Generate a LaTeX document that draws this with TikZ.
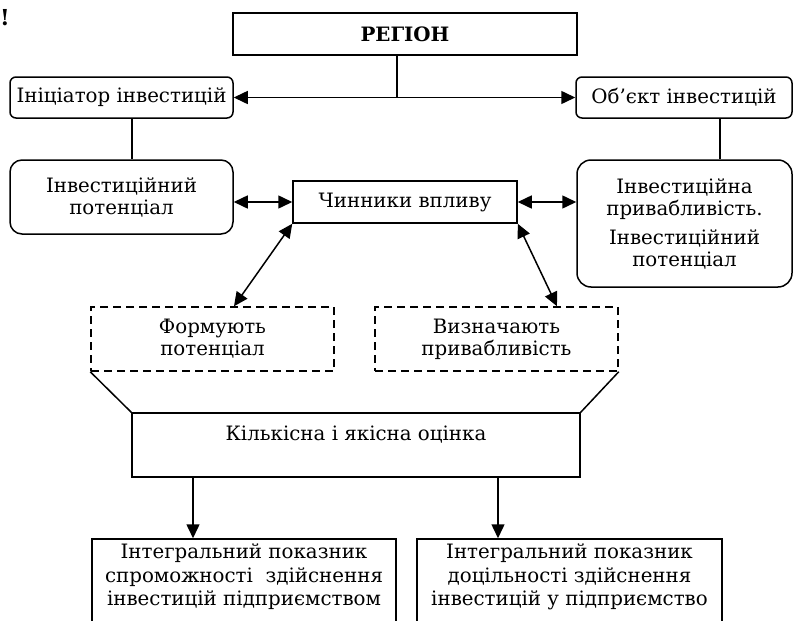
\documentclass[tikz,border=0pt]{standalone}
\usepackage{fontspec}
\setmainfont{DejaVu Serif}
\usetikzlibrary{arrows.meta,calc}
\begin{document}
\begin{tikzpicture}[x=1pt,y=-1pt,
  txt/.style={font=\fontsize{19.8}{22}\selectfont,align=center,inner sep=0pt},
  box/.style={draw,line width=1.5pt,inner sep=0pt,font=\fontsize{19.8}{22}\selectfont,align=center},
  rbox/.style={box,rounded corners=#1},
  dbox/.style={box,dash pattern=on 8pt off 5pt},
  ln/.style={line width=1.5pt},
  tip/.tip={Triangle[length=14pt,width=13pt]},
  dbl/.style={ln,tip-tip},
  sgl/.style={ln,-tip}]
\useasboundingbox (0,0) rectangle (793,621);
\fill[white] (0,0) rectangle (793,621);

\node[txt,font=\fontsize{22}{22}\selectfont\bfseries,anchor=west] (excl) at (0,18) {!};

\node[box,minimum width=344pt,minimum height=42pt,font=\fontsize{19.8}{22}\selectfont\bfseries] (region) at (405,34) {РЕГІОН};
\node[rbox=6pt,minimum width=223pt,minimum height=41pt] (init) at (121.5,97.5) {Ініціатор інвестицій};
\node[rbox=6pt,minimum width=216pt,minimum height=41pt] (obj) at (684,97.5) {Об’єкт інвестицій};
\node[rbox=12pt,minimum width=223pt,minimum height=74pt] (invpot) at (121.5,197) {Інвестиційний\\потенціал};
\node[box,minimum width=224pt,minimum height=42pt] (chin) at (405,202) {Чинники впливу};
\node[rbox=14pt,minimum width=215pt,minimum height=127pt] (attr) at (684.5,223.5) {Інвестиційна\\привабливість.\\[7pt]Інвестиційний\\потенціал};
\node[dbox,minimum width=243pt,minimum height=64pt] (form) at (212.5,339) {Формують\\потенціал};
\node[dbox,minimum width=243pt,minimum height=64pt] (vyzn) at (496.5,339) {Визначають\\привабливість};
\node[box,minimum width=448pt,minimum height=64pt] (kilk) at (356,445) {};
\node[txt] (kilkt) at (356,435) {Кількісна і якісна оцінка};
\node[box,minimum width=304pt,minimum height=100pt] (bl) at (244,589) {};
\node[txt,font=\fontsize{19.8}{23.5}\selectfont] (blt) at (244,577) {Інтегральний показник\\спроможності~ здійснення\\інвестицій підприємством};
\node[box,minimum width=305pt,minimum height=100pt] (br) at (569.5,589) {};
\node[txt,font=\fontsize{19.8}{23.5}\selectfont] (brt) at (569.5,577) {Інтегральний показник\\доцільності здійснення\\інвестицій у підприємство};

% connectors
\coordinate (j) at ($(region.south)+(-8,0)$);
\draw[ln] (j) -- (j |- init.east);
\draw[dbl] (init.east) -- (obj.west);
\draw[ln] ($(init.south)+(10.5,0)$) -- ($(invpot.north)+(10.5,0)$);
\draw[ln] ($(obj.south)+(36,0)$) -- ($(attr.north)+(35.5,0)$);
\draw[dbl] (invpot.east |- chin.west) -- (chin.west);
\draw[dbl] (chin.east) -- (attr.west |- chin.east);
\draw[dbl] (chin.south west) -- ($(form.north)+(21.5,0)$);
\draw[dbl] (chin.south east) -- ($(vyzn.north)+(60.5,0)$);
\draw[ln] (form.south west) -- (kilk.north west);
\draw[ln] (vyzn.south east) -- (kilk.north east);
\draw[sgl] (kilk.south -| 193,0) -- (bl.north -| 193,0);
\draw[sgl] (kilk.south -| 498,0) -- (br.north -| 498,0);
\end{tikzpicture}
\end{document}
